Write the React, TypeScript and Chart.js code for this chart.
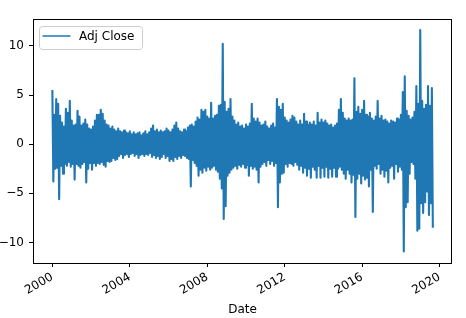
import { useEffect, useRef } from 'react';
import { Chart, registerables } from 'chart.js';

Chart.register(...registerables);

// Daily returns, summarised as high / low per 0.1-year bin, starting at 2000.0
const startYear = 2000.0;
const binYears = 0.1;
const upper = [
  5.5, 3.0, 4.6, 4.1, 2.9, 2.2, 1.8, 3.6, 3.2, 4.4,
  2.4, 1.9, 2.0, 3.4, 2.8, 1.9, 2.1, 2.5, 2.0, 1.6,
  1.5, 1.8, 2.4, 3.0, 3.0, 3.5, 3.1, 2.4, 2.0, 1.9,
  1.6, 1.8, 1.5, 1.3, 1.6, 1.3, 1.2, 1.4, 1.2, 1.1,
  1.3, 1.0, 1.2, 1.0, 1.1, 1.2, 0.9, 1.1, 1.3, 1.0,
  1.2, 1.6, 1.9, 1.3, 1.5, 1.2, 1.4, 1.2, 1.3, 1.6,
  1.4, 1.2, 1.5, 1.9, 2.2, 1.6, 1.3, 1.2, 1.5, 1.3,
  1.7, 1.9, 2.0, 1.8, 2.3, 2.7, 2.5, 3.5, 3.3, 3.5,
  2.8, 2.6, 4.2, 2.6, 2.9, 3.0, 3.9, 4.0, 10.2, 4.3,
  3.3, 3.6, 4.6, 2.8, 2.4, 2.0, 2.2, 1.8, 1.9, 1.6,
  2.0, 1.8, 2.1, 4.1, 2.6, 2.3, 2.6, 2.2, 1.9, 2.0,
  2.3, 1.8, 1.6, 1.9, 2.1, 1.7, 4.6, 3.8, 3.5, 4.1,
  2.7, 2.4, 2.2, 2.5, 2.9, 2.7, 2.3, 2.0, 2.4, 2.0,
  3.1, 2.3, 2.0, 2.2, 2.0, 2.3, 1.9, 3.2, 2.2, 2.5,
  2.2, 2.4, 2.1, 1.9, 2.0, 1.7, 1.9, 2.1, 3.5, 4.6,
  3.2, 2.6, 2.4, 2.6, 2.4, 2.5, 6.7, 3.3, 3.8, 3.1,
  3.5, 4.4, 3.0, 2.8, 3.2, 2.6, 2.4, 2.8, 4.4, 2.6,
  2.9, 2.4, 2.5, 2.3, 2.1, 2.4, 2.3, 2.2, 2.6, 2.5,
  3.0, 5.3, 6.9, 3.4, 2.9, 2.5, 2.7, 3.3, 5.9, 4.1,
  11.6, 4.4, 3.6, 4.0, 5.9, 3.9, 5.7,
];
const lower = [
  -3.8, -2.5, -2.4, -5.6, -2.2, -3.0, -2.0, -2.2, -1.8, -2.3,
  -2.0, -3.6, -2.0, -2.2, -2.4, -2.0, -1.8, -3.9, -2.5, -1.9,
  -2.6, -1.9, -2.2, -1.9, -2.0, -1.8, -2.1, -2.3, -1.7, -1.8,
  -1.7, -1.4, -1.6, -1.5, -1.2, -1.0, -1.4, -1.1, -1.0, -1.3,
  -1.0, -0.9, -1.2, -1.0, -1.4, -1.1, -1.0, -1.2, -1.0, -1.1,
  -0.9, -1.3, -1.1, -1.4, -1.2, -1.5, -1.3, -1.0, -1.4, -1.2,
  -1.7, -1.5, -1.7, -1.3, -1.5, -1.2, -1.4, -1.1, -1.2, -1.4,
  -1.5, -4.3, -1.6, -1.9, -2.2, -3.2, -2.6, -2.9, -2.4, -2.7,
  -2.3, -2.6, -2.4, -2.2, -2.6, -2.8, -3.5, -4.5, -7.6, -6.3,
  -3.2, -2.9, -2.6, -2.4, -2.2, -2.5, -2.1, -2.3, -2.0, -2.4,
  -2.1, -3.2, -2.2, -2.5, -2.3, -2.6, -3.9, -2.3, -2.0, -1.8,
  -2.2, -1.6, -2.0, -1.7, -2.2, -1.9, -6.4, -3.9, -3.0, -2.9,
  -2.0, -2.3, -1.9, -2.0, -2.2, -1.8, -2.1, -2.6, -2.2, -2.9,
  -2.4, -3.2, -2.5, -3.4, -2.3, -2.6, -3.4, -2.2, -3.4, -2.4,
  -3.3, -2.3, -3.4, -2.5, -3.3, -2.4, -3.3, -2.5, -2.3, -2.6,
  -3.0, -3.5, -2.6, -3.0, -3.9, -3.1, -7.4, -3.5, -3.0, -4.0,
  -3.2, -3.6, -3.4, -4.3, -2.6, -6.9, -2.2, -2.5, -2.0, -3.0,
  -2.6, -3.3, -2.7, -3.9, -2.4, -2.2, -3.5, -2.0, -2.8, -2.3,
  -2.6, -10.9, -6.4, -5.9, -3.0, -1.8, -2.0, -3.5, -8.8, -8.6,
  -6.0, -7.0, -5.9, -4.8, -7.2, -6.0, -8.5,
];

const xTicks = [2000, 2004, 2008, 2012, 2016, 2020];
const yTicks = [-10, -5, 0, 5, 10];
const seriesLabel = 'Adj Close';
const xTitle = 'Date';

const LINE_COLOR = '#1f77b4';
const TEXT_COLOR = '#000';
const FONT_FAMILY = '"DejaVu Sans", sans-serif';

export default function App() {
  const ref = useRef<HTMLCanvasElement>(null);

  useEffect(() => {
    document.body.style.margin = '0';
    const canvas = ref.current;
    if (!canvas) return;

    const points: { x: number; y: number }[] = [];
    upper.forEach((u, i) => {
      const x = startYear + i * binYears;
      points.push({ x, y: u });
      points.push({ x: x + binYears / 2, y: lower[i] });
    });

    const font = { family: FONT_FAMILY, size: 12 };

    const framePlugin = {
      id: 'mplFrame',
      afterDatasetsDraw(chart: any) {
        const { ctx, chartArea: a } = chart;
        ctx.save();
        ctx.strokeStyle = '#000';
        ctx.lineWidth = 1;
        ctx.strokeRect(
          Math.round(a.left) + 0.5,
          Math.round(a.top) + 0.5,
          Math.round(a.right - a.left) - 1,
          Math.round(a.bottom - a.top)
        );
        ctx.restore();
      },
      afterDraw(chart: any) {
        const { ctx, chartArea: a } = chart;
        const bx = a.left + 6.5;
        const by = a.top + 7.5;
        const bw = 103;
        const bh = 23;
        ctx.save();
        ctx.beginPath();
        ctx.roundRect(bx, by, bw, bh, 3);
        ctx.fillStyle = 'rgba(255,255,255,0.8)';
        ctx.fill();
        ctx.strokeStyle = '#cccccc';
        ctx.lineWidth = 1;
        ctx.stroke();
        ctx.beginPath();
        ctx.moveTo(bx + 3, by + 9.5);
        ctx.lineTo(bx + 31, by + 9.5);
        ctx.strokeStyle = LINE_COLOR;
        ctx.lineWidth = 1.5;
        ctx.stroke();
        ctx.fillStyle = TEXT_COLOR;
        ctx.font = `12px ${FONT_FAMILY}`;
        ctx.textBaseline = 'middle';
        ctx.textAlign = 'left';
        ctx.fillText(seriesLabel, bx + 39.5, by + 10);
        ctx.restore();
      },
    };

    const chart = new Chart(canvas, {
      type: 'line',
      data: {
        datasets: [
          {
            label: seriesLabel,
            data: points,
            borderColor: LINE_COLOR,
            borderWidth: 2.1,
            borderJoinStyle: 'round',
            pointRadius: 0,
            tension: 0,
            fill: false,
          },
        ],
      },
      options: {
        animation: false,
        responsive: false,
        devicePixelRatio: 1,
        parsing: false,
        normalized: true,
        layout: { padding: { top: 19, right: 14, left: 0, bottom: 0 } },
        plugins: {
          legend: { display: false },
          tooltip: { enabled: false },
        },
        scales: {
          x: {
            type: 'linear',
            min: 1999.0,
            max: 2020.64,
            afterBuildTicks: (s: any) => {
              s.ticks = xTicks.map((v) => ({ value: v }));
            },
            afterFit: (s: any) => {
              s.height = 55;
            },
            grid: {
              display: true,
              drawOnChartArea: false,
              drawTicks: true,
              tickLength: 4,
              color: '#000',
              lineWidth: 1,
            },
            border: { display: false },
            ticks: {
              autoSkip: false,
              minRotation: 30,
              maxRotation: 30,
              padding: 3,
              font,
              color: TEXT_COLOR,
              callback: (v: any) => String(v),
            },
            title: {
              display: true,
              text: xTitle,
              font,
              color: TEXT_COLOR,
              padding: { top: 0, bottom: 1 },
            },
          },
          y: {
            type: 'linear',
            min: -12.08,
            max: 12.73,
            afterBuildTicks: (s: any) => {
              s.ticks = yTicks.map((v) => ({ value: v }));
            },
            afterFit: (s: any) => {
              s.width = 33;
            },
            grid: {
              display: true,
              drawOnChartArea: false,
              drawTicks: true,
              tickLength: 4,
              color: '#000',
              lineWidth: 1,
            },
            border: { display: false },
            ticks: {
              padding: 5,
              font,
              color: TEXT_COLOR,
              callback: (v: any) => (v < 0 ? '\u2212' + Math.abs(v) : String(v)),
            },
          },
        },
      },
      plugins: [framePlugin],
    } as any);

    return () => chart.destroy();
  }, []);

  return (
    <div style={{ position: 'fixed', left: 0, top: 0, width: 466, height: 318, background: '#fff' }}>
      <canvas ref={ref} width={466} height={318} style={{ width: 466, height: 318, display: 'block' }} />
    </div>
  );
}
